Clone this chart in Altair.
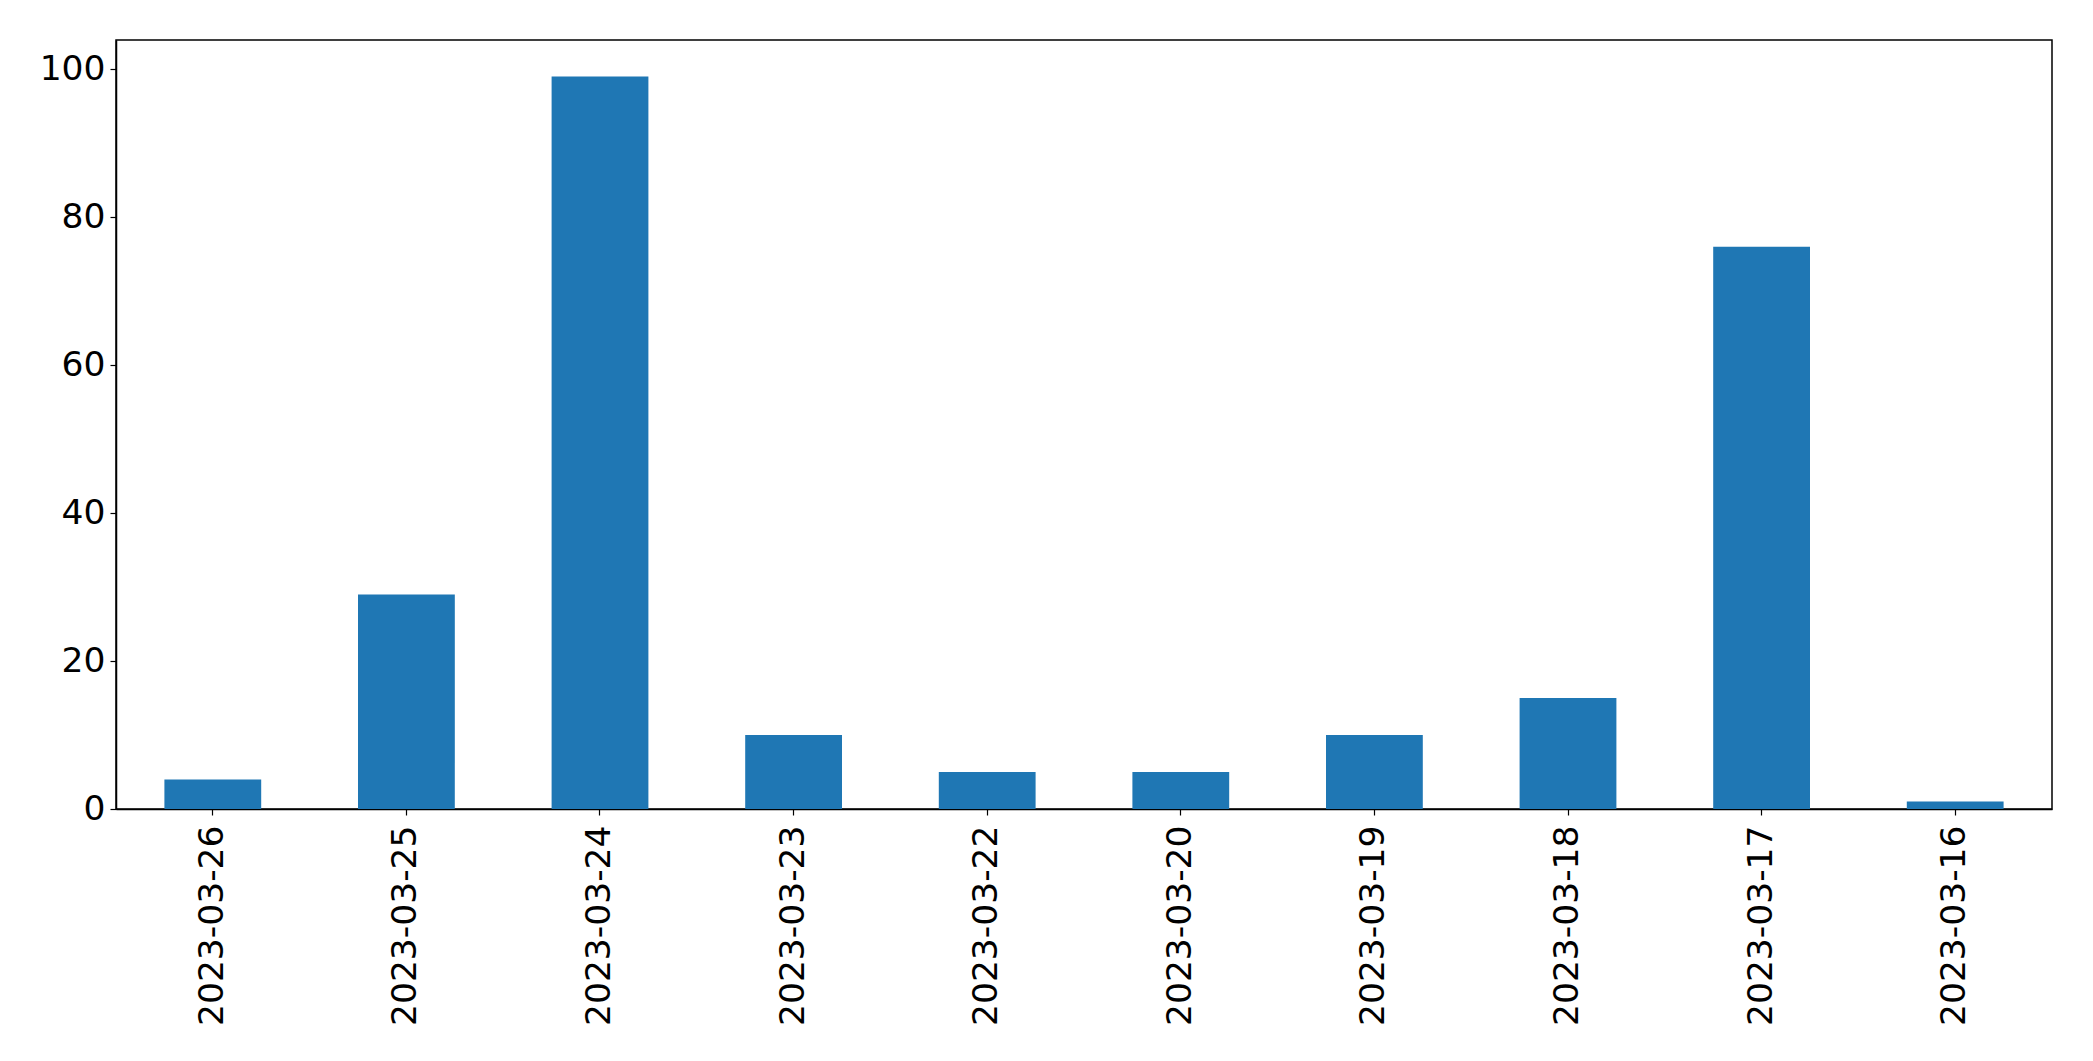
import altair as alt
import pandas as pd

dates = ["2023-03-26", "2023-03-25", "2023-03-24", "2023-03-23", "2023-03-22",
         "2023-03-20", "2023-03-19", "2023-03-18", "2023-03-17", "2023-03-16"]
counts = [4, 29, 99, 10, 5, 5, 10, 15, 76, 1]
y_ticks = [0, 20, 40, 60, 80, 100]

df = pd.DataFrame({"date": dates, "count": counts})

FONT = "DejaVu Sans"
FS = 34.5

chart = alt.Chart(df).mark_bar(color="#1f77b4").encode(
    x=alt.X("date:N", sort=dates, title=None,
            scale=alt.Scale(paddingInner=0.5, paddingOuter=0.25),
            axis=alt.Axis(labelAngle=270, labelAlign="right", labelBaseline="middle",
                          labelFontSize=FS, labelFont=FONT, labelColor="black",
                          labelLimit=1000, labelPadding=10, tickSize=6,
                          tickColor="black", tickWidth=1.2,
                          domainColor="black", domainWidth=1.5, grid=False)),
    y=alt.Y("count:Q", title=None,
            scale=alt.Scale(domain=[0, 103.95], nice=False, zero=True),
            axis=alt.Axis(values=y_ticks, labelFontSize=FS, labelFont=FONT,
                          labelColor="black", labelPadding=5, tickSize=6,
                          tickColor="black", tickWidth=1.2, domainColor="black",
                          domainWidth=1.5, grid=False)),
).properties(
    width=1936, height=769,
    autosize=alt.AutoSizeParams(type="none"),
    padding={"left": 108, "top": 32, "right": 33, "bottom": 244},
).configure(
    background="white"
).configure_view(
    stroke="black", strokeWidth=1.5
)

chart.save("out.html", embed_options={"renderer": "svg", "actions": False})
